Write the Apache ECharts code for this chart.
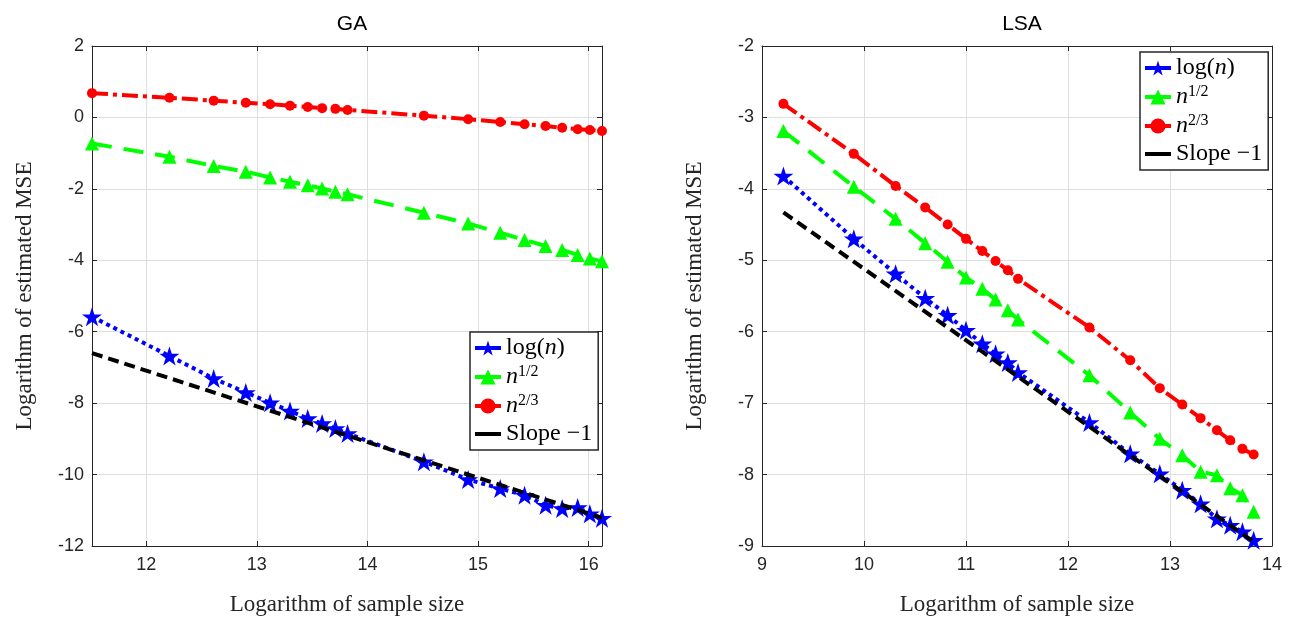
<!DOCTYPE html>
<html>
<head>
<meta charset="utf-8">
<script src="https://cdn.jsdelivr.net/npm/echarts@6/dist/echarts.min.js"></script>
<style>
html,body{margin:0;padding:0;background:#fff;}
#chart{width:1291px;height:621px;}
</style>
</head>
<body>
<div id="chart"></div>
<script>
// ---- data ----
const panelTitles = ['GA', 'LSA'];
const seriesNames = ['log(n)', 'n^{1/2}', 'n^{2/3}', 'Slope -1'];

const gaX = [11.51, 12.21, 12.61, 12.90, 13.12, 13.30, 13.46, 13.59, 13.71, 13.82, 14.51, 14.91, 15.20, 15.42, 15.61, 15.76, 15.90, 16.01, 16.12];
const gaLog = [-5.58, -6.68, -7.31, -7.70, -7.99, -8.22, -8.43, -8.57, -8.71, -8.85, -9.64, -10.14, -10.39, -10.58, -10.86, -10.95, -10.92, -11.10, -11.22];
const gaSqrt = [-0.73, -1.10, -1.36, -1.52, -1.68, -1.80, -1.90, -1.99, -2.08, -2.15, -2.67, -2.97, -3.23, -3.43, -3.60, -3.71, -3.85, -3.95, -4.03];
const gaTwoThirds = [0.68, 0.55, 0.47, 0.41, 0.37, 0.33, 0.29, 0.26, 0.24, 0.21, 0.05, -0.05, -0.13, -0.19, -0.24, -0.29, -0.33, -0.35, -0.38];
const gaSlopeX = [11.51, 16.12];
const gaSlopeY = [-6.60, -11.21];

const lsaX = [9.21, 9.90, 10.31, 10.60, 10.82, 11.00, 11.16, 11.29, 11.41, 11.51, 12.21, 12.61, 12.90, 13.12, 13.30, 13.46, 13.59, 13.71, 13.82];
const lsaLog = [-3.82, -4.70, -5.19, -5.53, -5.77, -5.98, -6.17, -6.31, -6.43, -6.57, -7.27, -7.71, -7.99, -8.22, -8.41, -8.62, -8.71, -8.80, -8.92];
const lsaSqrt = [-3.19, -3.97, -4.42, -4.76, -5.02, -5.24, -5.40, -5.55, -5.70, -5.83, -6.61, -7.13, -7.50, -7.73, -7.96, -8.01, -8.19, -8.29, -8.52];
const lsaTwoThirds = [-2.81, -3.51, -3.96, -4.26, -4.50, -4.70, -4.87, -5.01, -5.14, -5.26, -5.94, -6.40, -6.79, -7.02, -7.21, -7.38, -7.52, -7.64, -7.72];
const lsaSlopeX = [9.21, 13.82];
const lsaSlopeY = [-4.33, -8.94];

const gaXRange = [11.51, 16.12];
const gaYRange = [-12, 2];
const lsaXRange = [9, 14];
const lsaYRange = [-9, -2];

// ---- styling ----
const AX = '#262626';
const GRIDC = '#dfdfdf';
const SANS = 'Liberation Sans, Arial, sans-serif';
const SERIF = 'Liberation Serif, Times New Roman, serif';
const STAR = 'path://M100,0 L122.45,69.1 L195.1,69.1 L136.3,111.8 L158.8,180.9 L100,138.2 L41.2,180.9 L63.7,111.8 L4.9,69.1 L77.55,69.1 Z';

const zip = (xs, ys) => xs.map((x, i) => [x, ys[i]]);

const grids = [
  {left: 92, top: 46, width: 510, height: 500},
  {left: 762, top: 46, width: 510, height: 500}
];

function intLabel(v) {
  return Math.abs(v - Math.round(v)) < 1e-6 ? String(Math.round(v)) : '';
}

function xAxes(gi, range, hasInterval) {
  const base = {
    type: 'value', gridIndex: gi, min: range[0], max: range[1],
    axisLine: {show: true, onZero: false, lineStyle: {color: AX, width: 1}},
    axisTick: {show: true, inside: true, length: 5, lineStyle: {color: AX}},
  };
  if (hasInterval) base.interval = 1; else base.splitNumber = 5;
  return [
    Object.assign({}, base, {
      position: 'bottom',
      name: 'Logarithm of sample size', nameLocation: 'middle', nameGap: 47,
      nameTextStyle: {fontFamily: SERIF, fontSize: 23, color: AX},
      axisLabel: {show: true, margin: 10, fontFamily: SANS, fontSize: 18, color: AX, formatter: intLabel},
      splitLine: {show: true, lineStyle: {color: GRIDC, width: 1}}
    }),
    Object.assign({}, base, {
      position: 'top', axisLabel: {show: false}, splitLine: {show: false}
    })
  ];
}

function yAxes(gi, range, interval) {
  const base = {
    type: 'value', gridIndex: gi, min: range[0], max: range[1], interval: interval,
    axisLine: {show: true, onZero: false, lineStyle: {color: AX, width: 1}},
    axisTick: {show: true, inside: true, length: 5, lineStyle: {color: AX}},
  };
  return [
    Object.assign({}, base, {
      position: 'left',
      name: 'Logarithm of estimated MSE', nameLocation: 'middle', nameGap: 56,
      nameTextStyle: {fontFamily: SERIF, fontSize: 23, color: AX},
      axisLabel: {show: true, margin: 8, fontFamily: SANS, fontSize: 18, color: AX},
      splitLine: {show: true, lineStyle: {color: GRIDC, width: 1}}
    }),
    Object.assign({}, base, {
      position: 'right', axisLabel: {show: false}, splitLine: {show: false}
    })
  ];
}

function makeSeries(xi, yi, xs, logv, sqrtv, ttv, sx, sy) {
  return [
    {name: seriesNames[0], type: 'line', xAxisIndex: xi, yAxisIndex: yi, data: zip(xs, logv),
     symbol: STAR, symbolSize: 20, symbolKeepAspect: true, showSymbol: true, clip: false,
     itemStyle: {color: '#0000ff'}, lineStyle: {color: '#0000ff', width: 4, type: [4, 4]}, z: 2},
    {name: seriesNames[1], type: 'line', xAxisIndex: xi, yAxisIndex: yi, data: zip(xs, sqrtv),
     symbol: 'triangle', symbolSize: 14, showSymbol: true, clip: false,
     itemStyle: {color: '#00ff00'}, lineStyle: {color: '#00ff00', width: 4, type: [20, 12]}, z: 3},
    {name: seriesNames[2], type: 'line', xAxisIndex: xi, yAxisIndex: yi, data: zip(xs, ttv),
     symbol: 'circle', symbolSize: 10, showSymbol: true, clip: false,
     itemStyle: {color: '#ff0000'}, lineStyle: {color: '#ff0000', width: 4, type: [16, 5, 4, 5]}, z: 4},
    {name: seriesNames[3], type: 'line', xAxisIndex: xi, yAxisIndex: yi, data: zip(sx, sy),
     symbol: 'none', showSymbol: false, clip: false,
     itemStyle: {color: '#000000'}, lineStyle: {color: '#000000', width: 4, type: [11, 6]}, z: 5}
  ];
}

const rich = {
  r: {fontFamily: SERIF, fontSize: 24, color: '#000', lineHeight: 26},
  i: {fontFamily: SERIF, fontSize: 24, fontStyle: 'italic', color: '#000', lineHeight: 26},
  s: {fontFamily: SERIF, fontSize: 16, color: '#000', verticalAlign: 'top', lineHeight: 16}
};
function legendFmt(name) {
  if (name === seriesNames[0]) return '{r|log(}{i|n}{r|)}';
  if (name === seriesNames[1]) return '{i|n}{s|1/2}';
  if (name === seriesNames[2]) return '{i|n}{s|2/3}';
  return '{r|Slope \u22121}';
}
function legend(left, top) {
  return {
    data: [seriesNames[0], seriesNames[1], seriesNames[2], {name: seriesNames[3], itemStyle: {opacity: 0}}],
    orient: 'vertical', left: left, top: top,
    backgroundColor: '#fff', borderColor: AX, borderWidth: 1.5, padding: [4, 6, 4, 3],
    itemWidth: 26, itemHeight: 19, itemGap: 4,
    lineStyle: {type: 'solid', width: 4},
    formatter: legendFmt, textStyle: {rich: rich, fontFamily: SERIF, fontSize: 24, color: '#000'},
    selectedMode: false
  };
}

const gx = xAxes(0, gaXRange, false);
const lx = xAxes(1, lsaXRange, true);
const gy = yAxes(0, gaYRange, 2);
const ly = yAxes(1, lsaYRange, 1);

const option = {
  animation: false,
  backgroundColor: '#fff',
  title: [
    {text: panelTitles[0], left: 347, top: 9, textAlign: 'center',
     textStyle: {fontFamily: SANS, fontSize: 21, fontWeight: 'normal', color: '#000'}},
    {text: panelTitles[1], left: 1017, top: 9, textAlign: 'center',
     textStyle: {fontFamily: SANS, fontSize: 21, fontWeight: 'normal', color: '#000'}}
  ],
  grid: grids,
  xAxis: [gx[0], gx[1], lx[0], lx[1]],
  yAxis: [gy[0], gy[1], ly[0], ly[1]],
  legend: [legend(470, 332), legend(1140, 52)],
  series: [].concat(
    makeSeries(0, 0, gaX, gaLog, gaSqrt, gaTwoThirds, gaSlopeX, gaSlopeY),
    makeSeries(2, 2, lsaX, lsaLog, lsaSqrt, lsaTwoThirds, lsaSlopeX, lsaSlopeY)
  )
};

const chart = echarts.init(document.getElementById('chart'), null, {renderer: 'canvas'});
chart.setOption(option);
</script>
</body>
</html>
